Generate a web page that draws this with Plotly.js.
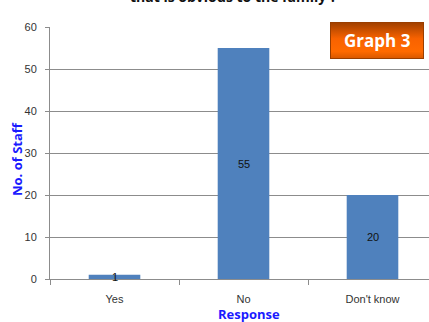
<!DOCTYPE html>
<html>
<head>
<meta charset="utf-8">
<script src="https://cdn.plot.ly/plotly-3.0.1.min.js"></script>
<style>
html,body{margin:0;padding:0;overflow:hidden;background:#fff;width:429px;height:322px;}
#chart{width:440px;height:322px;}
</style>
</head>
<body>
<div id="chart"></div>
<script>
var categories = ["Yes", "No", "Don't know"];
var staffCounts = [1, 55, 20];
var chartTitle = "that is obvious to the family ?";
var xTitle = "Response";
var yTitle = "No. of Staff";
var badgeText = "Graph 3";

var W = 440, H = 322;
var mL = 50, mR = 3, mT = 27, mB = 43;
var pw = W - mL - mR, ph = H - mT - mB;
function px2x(p){ return (p - mL) / pw; }
function py2y(p){ return (H - mB - p) / ph; }

var badgeSvg = '<svg xmlns="http://www.w3.org/2000/svg" width="94" height="37" viewBox="0 0 94 37" preserveAspectRatio="none">' +
  '<defs><linearGradient id="g" x1="0" y1="0" x2="0" y2="1">' +
  '<stop offset="0" stop-color="#a04000"/><stop offset="0.45" stop-color="#f86200"/><stop offset="0.8" stop-color="#ff6a00"/><stop offset="1" stop-color="#d85800"/>' +
  '</linearGradient></defs><rect x="0.5" y="0.5" width="93" height="36" fill="url(#g)" stroke="#9a3e00" stroke-width="1"/></svg>';

var trace = {
  type: 'bar',
  x: categories,
  y: staffCounts,
  width: 0.4,
  marker: {color: '#4f81bd', line: {width: 0}},
  hoverinfo: 'none'
};

var annotations = categories.map(function(c, i){
  return {
    x: c, y: staffCounts[i] / 2, xref: 'x', yref: 'y',
    text: String(staffCounts[i]), showarrow: false,
    font: {family: 'Liberation Sans, Arial, sans-serif', size: 11, color: '#111'},
    xanchor: 'center', yanchor: 'middle'
  };
});

annotations.push({
  xref: 'paper', yref: 'paper', x: px2x(233), y: py2y(-3.5),
  xanchor: 'center', yanchor: 'middle', showarrow: false,
  text: '<b>' + chartTitle + '</b>',
  font: {family: 'Open Sans, sans-serif', size: 14, color: '#111'}
});
annotations.push({
  xref: 'paper', yref: 'paper', x: px2x(377), y: py2y(40.5),
  xanchor: 'center', yanchor: 'middle', showarrow: false,
  text: '<b>' + badgeText + '</b>',
  font: {family: 'Open Sans, sans-serif', size: 17, color: '#ffffff'}
});
annotations.push({
  xref: 'paper', yref: 'paper', x: px2x(17), y: py2y(159),
  xanchor: 'center', yanchor: 'middle', showarrow: false, textangle: -90,
  text: '<b>' + yTitle + '</b>',
  font: {family: 'Open Sans, sans-serif', size: 13, color: '#1a1aff'}
});
annotations.push({
  xref: 'paper', yref: 'paper', x: px2x(249), y: py2y(313.5),
  xanchor: 'center', yanchor: 'middle', showarrow: false,
  text: '<b>' + xTitle + '</b>',
  font: {family: 'Open Sans, sans-serif', size: 13, color: '#1a1aff'}
});

var layout = {
  width: W, height: H,
  margin: {l: mL, r: mR, t: mT, b: mB, pad: 0},
  paper_bgcolor: '#ffffff', plot_bgcolor: '#ffffff',
  showlegend: false,
  bargap: 0.6,
  font: {family: 'Liberation Sans, Arial, sans-serif', size: 11, color: '#333'},
  xaxis: {
    type: 'category', range: [-0.5, 2.5],
    showline: true, linecolor: '#8c8c8c', linewidth: 1,
    ticks: 'outside', tickson: 'boundaries', ticklen: 5, tickcolor: '#8c8c8c',
    showgrid: false, zeroline: false,
    tickfont: {family: 'Liberation Sans, Arial, sans-serif', size: 11, color: '#333'},
    ticklabelstandoff: 10
  },
  yaxis: {
    range: [0, 60], dtick: 10, tick0: 0,
    showline: true, linecolor: '#8c8c8c', linewidth: 1,
    ticks: 'outside', ticklen: 4, tickcolor: '#8c8c8c',
    showgrid: true, gridcolor: '#8c8c8c', gridwidth: 1,
    zeroline: false,
    tickfont: {family: 'Liberation Sans, Arial, sans-serif', size: 11, color: '#333'},
    ticklabelstandoff: 6
  },
  images: [{
    source: 'data:image/svg+xml;charset=utf-8,' + encodeURIComponent(badgeSvg),
    xref: 'paper', yref: 'paper',
    x: px2x(330), y: py2y(22), sizex: 94 / pw, sizey: 37 / ph,
    xanchor: 'left', yanchor: 'top', sizing: 'stretch', layer: 'above'
  }],
  annotations: annotations
};

Plotly.newPlot('chart', [trace], layout, {displayModeBar: false, staticPlot: true});
</script>
</body>
</html>
